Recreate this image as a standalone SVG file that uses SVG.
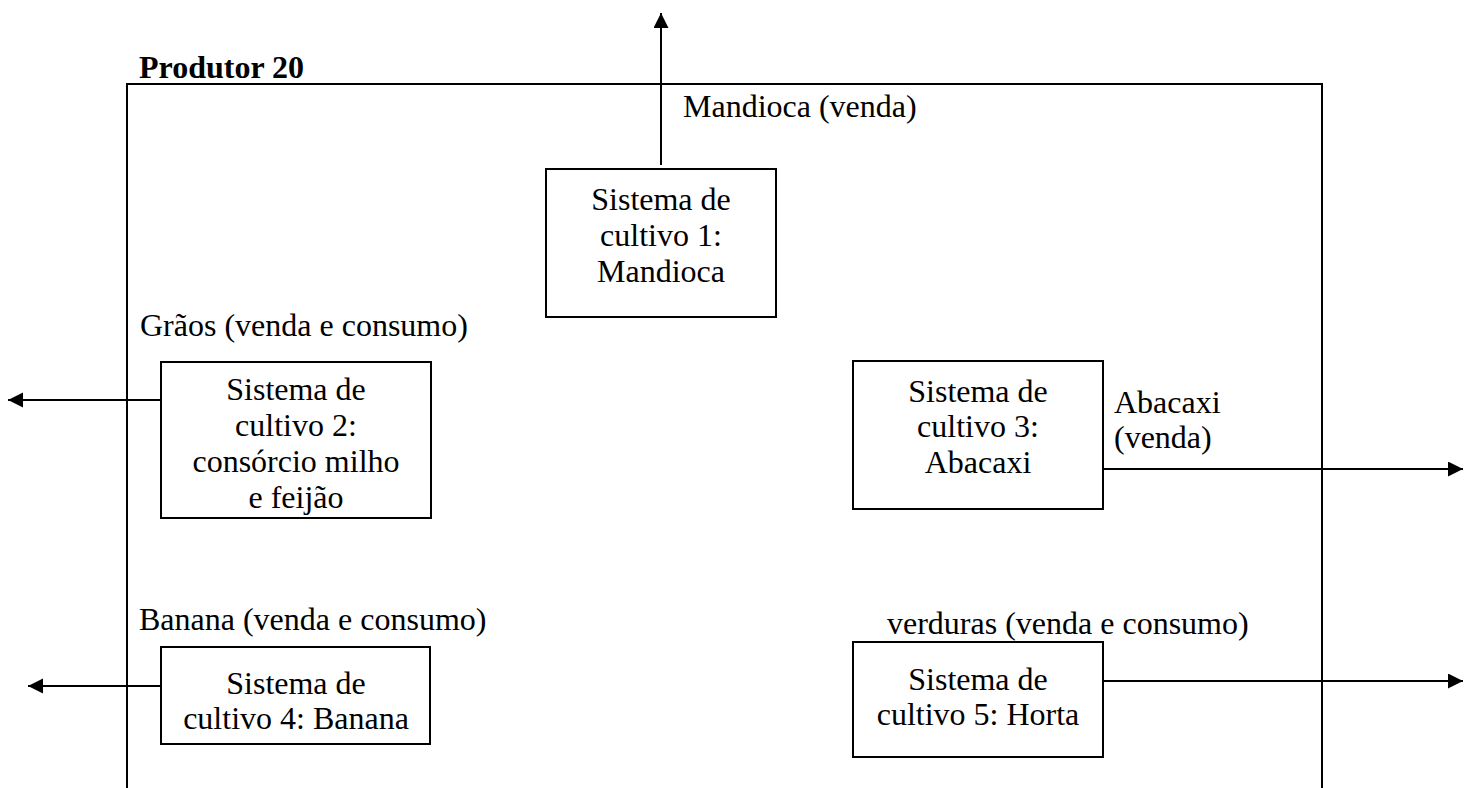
<svg xmlns="http://www.w3.org/2000/svg" width="1467" height="788" viewBox="0 0 1467 788">
<defs>
<style>
.t{font-family:"Liberation Serif","Times New Roman",serif;font-size:32px;fill:#000}
.c{text-anchor:middle}
.b{fill:#fff;stroke:#000;stroke-width:2}
.ln{stroke:#000;stroke-width:2;fill:none}
</style>
<marker id="ah" markerWidth="16" markerHeight="16" refX="15" refY="7.5" orient="auto" markerUnits="userSpaceOnUse">
<path d="M0,0 L15,7.5 L0,15 Z" fill="#000"/>
</marker>
</defs>
<rect width="1467" height="788" fill="#fff"/>
<g id="frame">
<path class="ln" d="M127,788 V84 H1322 V788" stroke-width="2.5"/>
<text class="t" x="139" y="78" font-weight="bold">Produtor 20</text>
</g>
<g id="connectors">
<line class="ln" x1="661" y1="165" x2="661" y2="13" marker-end="url(#ah)"/>
<line class="ln" x1="161" y1="400" x2="8" y2="400" marker-end="url(#ah)"/>
<line class="ln" x1="1103" y1="469" x2="1463" y2="469" marker-end="url(#ah)"/>
<line class="ln" x1="161" y1="686" x2="28" y2="686" marker-end="url(#ah)"/>
<line class="ln" x1="1103" y1="681" x2="1463" y2="681" marker-end="url(#ah)"/>
</g>
<g id="labels">
<text class="t" x="683" y="117">Mandioca (venda)</text>
<text class="t" x="140" y="336">Grãos (venda e consumo)</text>
<text class="t" x="1114" y="413">Abacaxi</text>
<text class="t" x="1114" y="448">(venda)</text>
<text class="t" x="139" y="630">Banana (venda e consumo)</text>
<text class="t" x="887" y="634">verduras (venda e consumo)</text>
</g>
<g id="node1">
<rect class="b" x="546" y="169" width="230" height="148"/>
<text class="t c" x="661" y="210">Sistema de</text>
<text class="t c" x="661" y="246">cultivo 1:</text>
<text class="t c" x="661" y="282">Mandioca</text>
</g>
<g id="node2">
<rect class="b" x="161" y="362" width="270" height="156"/>
<text class="t c" x="296" y="400">Sistema de</text>
<text class="t c" x="296" y="436">cultivo 2:</text>
<text class="t c" x="296" y="472">consórcio milho</text>
<text class="t c" x="296" y="508">e feijão</text>
</g>
<g id="node3">
<rect class="b" x="853" y="361" width="250" height="148"/>
<text class="t c" x="978" y="402">Sistema de</text>
<text class="t c" x="978" y="437">cultivo 3:</text>
<text class="t c" x="978" y="473">Abacaxi</text>
</g>
<g id="node4">
<rect class="b" x="161" y="647" width="269" height="97"/>
<text class="t c" x="296" y="694">Sistema de</text>
<text class="t c" x="296" y="729">cultivo 4: Banana</text>
</g>
<g id="node5">
<rect class="b" x="853" y="642" width="250" height="115"/>
<text class="t c" x="978" y="690">Sistema de</text>
<text class="t c" x="978" y="725">cultivo 5: Horta</text>
</g>
</svg>
